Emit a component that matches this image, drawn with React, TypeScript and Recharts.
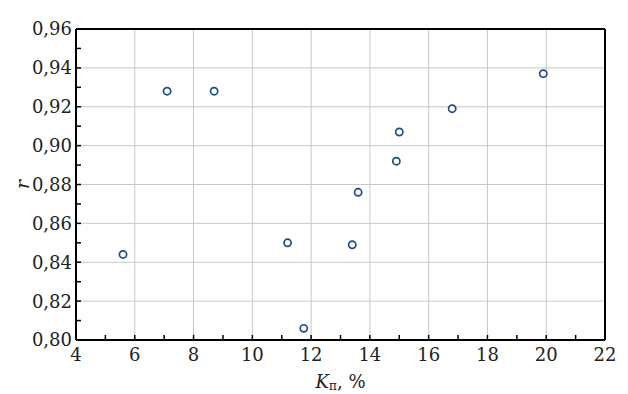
import { ScatterChart, Scatter, XAxis, YAxis, ReferenceLine } from 'recharts';

const kp = [5.6, 7.1, 8.7, 11.2, 11.75, 13.4, 13.6, 14.9, 15.0, 16.8, 19.9];
const rValues = [0.844, 0.928, 0.928, 0.850, 0.806, 0.849, 0.876, 0.892, 0.907, 0.919, 0.937];

const xTicks = [4, 5, 6, 7, 8, 9, 10, 11, 12, 13, 14, 15, 16, 17, 18, 19, 20, 21, 22];
const xGrid = [6, 8, 10, 12, 14, 16, 18, 20];
const yTicks = [0.80, 0.81, 0.82, 0.83, 0.84, 0.85, 0.86, 0.87, 0.88, 0.89, 0.90, 0.91, 0.92, 0.93, 0.94, 0.95, 0.96];
const yGrid = [0.82, 0.84, 0.86, 0.88, 0.90, 0.92, 0.94];

const data = kp.map((k, i) => ({ k, r: rValues[i] }));

const FONT = 'DejaVu Serif';

const fmtX = (v: number) => (v % 2 === 0 ? String(v) : '');
const fmtY = (v: number) => (Math.round(v * 100) % 2 === 0 ? v.toFixed(2).replace('.', ',') : '');

function Dot(props: any) {
  return <circle cx={props.cx} cy={props.cy} r={3.6} fill="#fff" stroke="#1f4b86" strokeWidth={1.7} />;
}

function YLabel(props: any) {
  const vb = props.viewBox;
  const cy = vb.y + vb.height / 2;
  return (
    <text x={22} y={cy} transform={`rotate(-90, 22, ${cy})`} textAnchor="middle" dominantBaseline="central"
      fontFamily={FONT} fontStyle="italic" fontSize={19} fill="#222">r</text>
  );
}

function XLabel(props: any) {
  const vb = props.viewBox;
  const cx = vb.x + vb.width / 2;
  return (
    <text x={cx} y={388} textAnchor="middle" fontFamily={FONT} fontSize={18} fill="#222">
      <tspan fontStyle="italic">K</tspan>
      <tspan fontSize={12} dy={2}>п</tspan>
      <tspan dy={-2}>, %</tspan>
    </text>
  );
}

export default function App() {
  const tickStyle = { fontFamily: FONT, fontSize: 18, fill: '#222' };
  return (
    <div style={{ position: 'absolute', left: 0, top: 0, background: '#fff' }}>
      <ScatterChart width={628} height={394} margin={{ top: 28, right: 22, left: 0, bottom: 0 }}>
        <XAxis xAxisId="x" dataKey="k" type="number" domain={[4, 22]} ticks={xTicks} interval={0}
          tickFormatter={fmtX} tick={tickStyle} tickSize={-5} tickMargin={13} height={54}
          axisLine={{ stroke: '#000', strokeWidth: 2 }} tickLine={{ stroke: '#000', strokeWidth: 1.5 }}
          label={<XLabel />} />
        <XAxis xAxisId="top" orientation="top" type="number" domain={[4, 22]} ticks={xTicks} interval={0}
          tick={false} tickSize={-5} height={1}
          axisLine={{ stroke: '#000', strokeWidth: 2 }} tickLine={{ stroke: '#000', strokeWidth: 1.5 }} />
        <YAxis yAxisId="y" dataKey="r" type="number" domain={[0.8, 0.96]} ticks={yTicks} interval={0}
          tickFormatter={fmtY} tick={tickStyle} tickSize={-5} tickMargin={9} width={76}
          axisLine={{ stroke: '#000', strokeWidth: 2 }} tickLine={{ stroke: '#000', strokeWidth: 1.5 }}
          label={<YLabel />} />
        <YAxis yAxisId="right" orientation="right" type="number" domain={[0.8, 0.96]} ticks={yTicks} interval={0}
          tick={false} tickSize={-5} width={1}
          axisLine={{ stroke: '#000', strokeWidth: 2 }} tickLine={{ stroke: '#000', strokeWidth: 1.5 }} />
        {xGrid.map((v) => (
          <ReferenceLine key={'gx' + v} xAxisId="x" yAxisId="y" x={v} stroke="#c8c8c8" strokeWidth={1} />
        ))}
        {yGrid.map((v) => (
          <ReferenceLine key={'gy' + v} xAxisId="x" yAxisId="y" y={v} stroke="#c8c8c8" strokeWidth={1} />
        ))}
        <Scatter xAxisId="x" yAxisId="y" data={data} shape={<Dot />} isAnimationActive={false} />
      </ScatterChart>
    </div>
  );
}
